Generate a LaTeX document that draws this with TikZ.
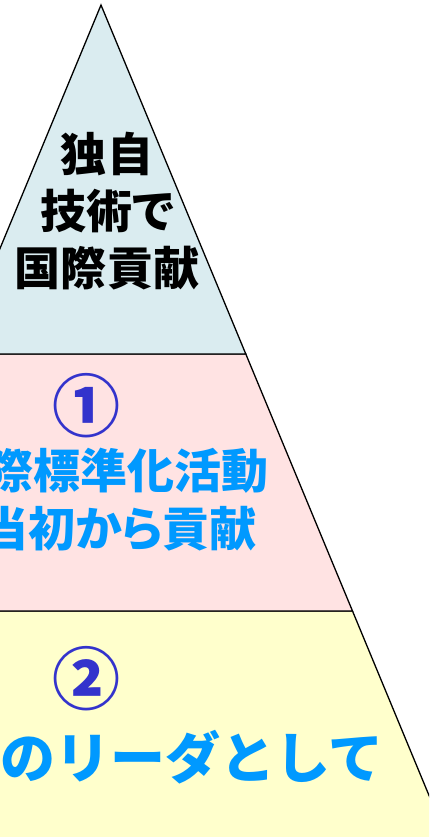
\documentclass[tikz,border=0pt]{standalone}
\usepackage{fontspec}
\newfontfamily\jpfont{Noto Sans CJK JP}[RawFeature=+palt]
\newfontfamily\jpfontfull{Noto Sans CJK JP}
\definecolor{tierblue}{HTML}{DAECF0}
\definecolor{tierpink}{HTML}{FFE3E3}
\definecolor{tieryellow}{HTML}{FFFFCC}
\definecolor{textblue}{HTML}{0099FF}
\definecolor{numblue}{HTML}{3333CC}
\tikzset{
  tier/.style={draw=black, line width=1.3bp, line join=miter},
  toptext/.style={inner sep=0pt, font=\jpfont\bfseries\fontsize{46bp}{57bp}\selectfont, text=black, align=center},
  midtext/.style={inner sep=0pt, font=\jpfont\bfseries\fontsize{47bp}{58bp}\selectfont, text=textblue},
  bottext/.style={inner sep=0pt, font=\jpfontfull\bfseries\fontsize{55bp}{60bp}\selectfont, text=textblue},
  numtext/.style={inner sep=0pt, font=\jpfont\bfseries\fontsize{68bp}{70bp}\selectfont, text=numblue}
}
\begin{document}
\begin{tikzpicture}[x=1bp, y=-1bp]
\useasboundingbox (0,0) rectangle (429,837);
\clip (0,0) rectangle (429,837);
% tiers
\fill[white] (0,0) rectangle (429,837);
\filldraw[tier, fill=tieryellow] (-150.5,611) -- (352.5,611) -- (472.4,900) -- (-270,900) -- cycle;
\filldraw[tier, fill=tierpink] (-43.8,354) -- (245.8,354) -- (352.5,611) -- (-150.5,611) -- cycle;
\filldraw[tier, fill=tierblue] (101,5) -- (245.8,354) -- (-43.8,354) -- cycle;
% texts
\node[toptext] (top) at (107,211) {独自\\技術で\\国際貢献};
\node[numtext] (n1) at (86,406) {①};
\node[midtext, anchor=east] (m1) at (269,471) {際標準化活動};
\node[midtext, anchor=east] (m2) at (257,529) {当初から貢献};
\node[numtext] (n2) at (86,679) {②};
\node[bottext, anchor=east] (b1) at (384,757) {のリーダとして};
\end{tikzpicture}
\end{document}
